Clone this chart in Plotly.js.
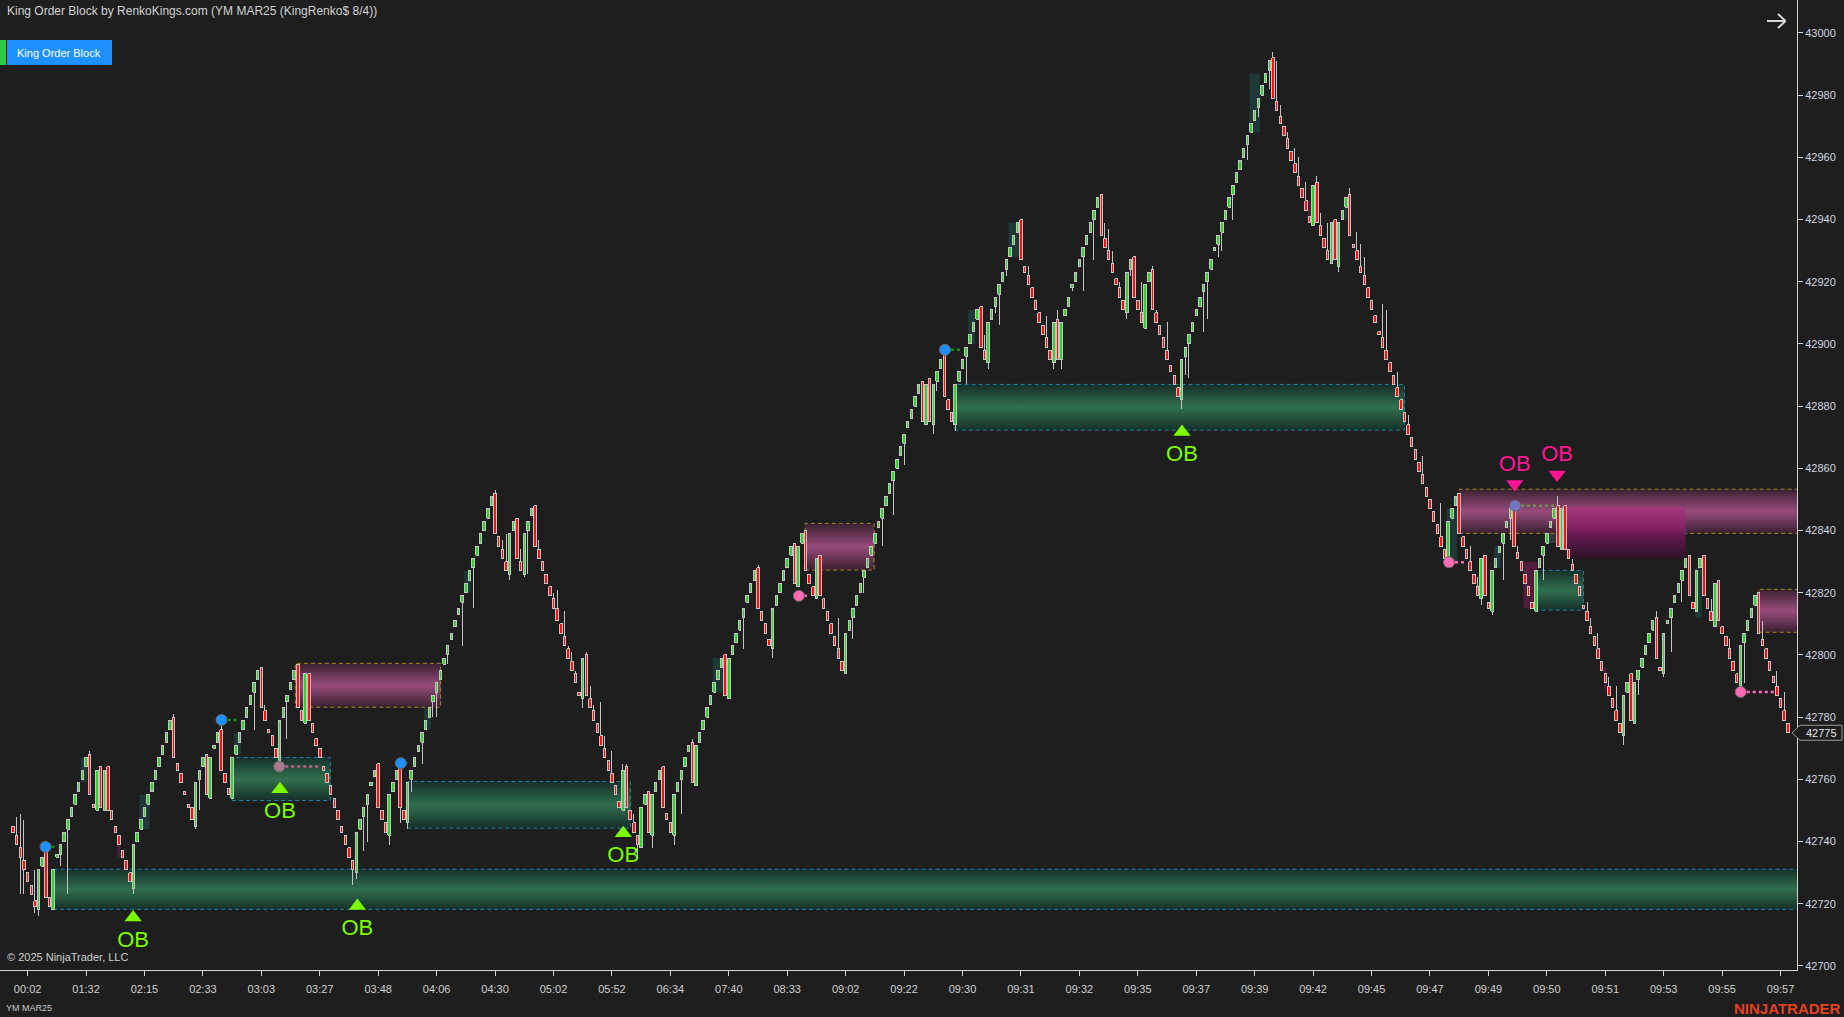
<!DOCTYPE html>
<html><head><meta charset="utf-8">
<script src="https://cdn.plot.ly/plotly-3.0.1.min.js"></script>
<style>html,body{margin:0;padding:0;background:#1e1e1e;overflow:hidden}#chart{width:1844px;height:1017px}</style>
</head><body><div id="chart"></div>
<script>
// ---- renko bar data (bar index = position) ----
const opens = [
42745,42742,42738,42734,42730,42726,42721,42718,42732,42738,
42722,42718,42735,42736,42740,42744,42748,42752,42756,42760,
42764,42768,42752,42750,42764,42750,42764,42750,42745,42742,
42737,42734,42730,42725,42740,42744,42748,42752,42756,42760,
42764,42768,42772,42776,42780,42765,42762,42756,42752,42751,
42745,42760,42764,42768,42754,42770,42772,42776,42762,42757,
42754,42768,42772,42776,42780,42784,42788,42792,42796,42782,
42776,42774,42770,42766,42780,42785,42789,42792,42797,42782,
42778,42794,42778,42773,42770,42764,42762,42758,42754,42750,
42745,42742,42738,42734,42730,42744,42748,42752,42758,42761,
42765,42750,42746,42742,42756,42760,42765,42750,42746,42760,
42764,42769,42772,42776,42780,42785,42788,42792,42797,42800,
42805,42809,42813,42817,42820,42824,42828,42832,42836,42840,
42844,42848,42852,42838,42834,42830,42826,42840,42844,42830,
42826,42840,42845,42848,42834,42830,42826,42822,42818,42815,
42810,42806,42802,42798,42794,42788,42786,42800,42786,42782,
42778,42774,42770,42766,42762,42758,42753,42750,42764,42750,
42746,42742,42738,42752,42756,42742,42756,42760,42764,42749,
42746,42742,42756,42760,42764,42769,42772,42758,42772,42776,
42780,42784,42788,42792,42796,42800,42786,42800,42804,42808,
42812,42817,42820,42824,42828,42814,42810,42805,42802,42816,
42820,42824,42828,42832,42836,42822,42836,42840,42826,42822,
42818,42832,42818,42814,42810,42806,42802,42798,42794,42808,
42812,42816,42820,42825,42828,42832,42836,42841,42844,42848,
42852,42856,42860,42864,42868,42873,42876,42880,42884,42888,
42874,42889,42874,42888,42892,42897,42882,42878,42874,42888,
42892,42896,42900,42904,42908,42912,42898,42894,42908,42912,
42916,42920,42924,42928,42932,42936,42940,42925,42922,42918,
42914,42910,42906,42902,42898,42894,42908,42895,42909,42912,
42918,42920,42925,42928,42932,42936,42940,42944,42948,42934,
42930,42926,42921,42918,42914,42910,42924,42928,42914,42910,
42905,42920,42924,42910,42906,42902,42898,42893,42890,42886,
42882,42896,42900,42904,42909,42912,42917,42920,42924,42930,
42932,42936,42940,42944,42948,42952,42956,42960,42964,42968,
42972,42976,42980,42984,42988,42992,42978,42973,42970,42966,
42962,42958,42954,42950,42946,42941,42938,42952,42938,42934,
42930,42926,42940,42925,42940,42944,42948,42932,42930,42925,
42922,42918,42914,42909,42904,42902,42898,42894,42890,42886,
42882,42878,42874,42870,42866,42862,42858,42854,42850,42846,
42842,42838,42834,42830,42844,42848,42852,42838,42834,42830,
42826,42822,42818,42832,42817,42814,42828,42833,42836,42841,
42844,42848,42833,42830,42826,42822,42817,42814,42828,42832,
42836,42841,42844,42848,42834,42848,42834,42829,42826,42822,
42816,42814,42809,42806,42802,42798,42794,42790,42786,42782,
42778,42774,42788,42794,42778,42792,42796,42800,42804,42808,
42812,42796,42794,42810,42812,42817,42820,42824,42828,42832,
42817,42814,42828,42832,42818,42814,42809,42824,42809,42806,
42802,42798,42794,42790,42804,42808,42812,42816,42820,42805,
42802,42798,42793,42790,42786,42782,42778];
const closes = [
42743,42739,42735,42731,42727,42723,42719,42731,42735,42722,
42719,42731,42736,42739,42743,42747,42751,42755,42759,42763,
42767,42755,42751,42763,42751,42763,42750,42747,42743,42739,
42735,42731,42727,42739,42743,42747,42751,42755,42759,42763,
42767,42771,42775,42779,42767,42763,42759,42755,42751,42747,
42759,42763,42767,42755,42767,42771,42775,42763,42759,42755,
42767,42771,42775,42779,42783,42787,42791,42795,42783,42779,
42775,42771,42767,42779,42783,42787,42791,42795,42783,42779,
42794,42779,42775,42771,42767,42763,42759,42755,42751,42747,
42743,42739,42735,42731,42743,42747,42751,42755,42759,42763,
42751,42747,42743,42755,42759,42763,42751,42747,42759,42763,
42767,42771,42775,42779,42783,42787,42791,42795,42799,42803,
42807,42811,42815,42819,42823,42827,42831,42835,42839,42843,
42847,42851,42839,42835,42831,42827,42839,42843,42831,42827,
42839,42843,42847,42835,42831,42827,42823,42819,42815,42811,
42807,42803,42799,42795,42791,42787,42799,42787,42783,42779,
42775,42771,42767,42763,42759,42755,42751,42763,42751,42747,
42743,42739,42751,42755,42743,42755,42759,42763,42751,42747,
42743,42755,42759,42763,42767,42771,42759,42771,42775,42779,
42783,42787,42791,42795,42799,42787,42799,42803,42807,42811,
42815,42819,42823,42827,42815,42811,42807,42803,42815,42819,
42823,42827,42831,42835,42823,42835,42839,42827,42823,42819,
42831,42819,42815,42811,42807,42803,42799,42795,42807,42811,
42815,42819,42823,42827,42831,42835,42839,42843,42847,42851,
42855,42859,42863,42867,42871,42875,42879,42883,42887,42875,
42887,42875,42887,42891,42895,42883,42879,42875,42887,42891,
42895,42899,42903,42907,42911,42899,42895,42907,42911,42915,
42919,42923,42927,42931,42935,42939,42927,42923,42919,42915,
42911,42907,42903,42899,42895,42907,42895,42907,42911,42915,
42919,42923,42927,42931,42935,42939,42943,42947,42935,42931,
42927,42923,42919,42915,42911,42923,42927,42915,42911,42907,
42919,42923,42911,42907,42903,42899,42895,42891,42887,42883,
42895,42899,42903,42907,42911,42915,42919,42923,42927,42931,
42935,42939,42943,42947,42951,42955,42959,42963,42967,42971,
42975,42979,42983,42987,42991,42979,42975,42971,42967,42963,
42959,42955,42951,42947,42943,42939,42951,42939,42935,42931,
42927,42939,42927,42939,42943,42947,42935,42931,42927,42923,
42919,42915,42911,42907,42903,42899,42895,42891,42887,42883,
42879,42875,42871,42867,42863,42859,42855,42851,42847,42843,
42839,42835,42831,42843,42847,42851,42839,42835,42831,42827,
42823,42819,42831,42819,42815,42827,42831,42835,42839,42843,
42847,42835,42831,42827,42823,42819,42815,42827,42831,42835,
42839,42843,42847,42835,42847,42834,42831,42827,42823,42819,
42815,42811,42807,42803,42799,42795,42791,42787,42783,42779,
42775,42787,42791,42779,42791,42795,42799,42803,42807,42811,
42799,42795,42807,42811,42815,42819,42823,42827,42831,42819,
42815,42827,42831,42819,42815,42811,42823,42811,42807,42803,
42799,42795,42791,42803,42807,42811,42815,42819,42807,42803,
42799,42795,42791,42787,42783,42779,42775];

// wick tips (bar index, price reached beyond body)
const wickBars = [1,2,2,3,3,6,6,7,13,15,21,33,44,50,51,57,66,69,73,75,93,94,96,97,103,106,108,109,112,115,116,119,123,126,132,134,135,136,139,140,141,144,148,149,151,152,153,154,156,157,158,159,161,162,164,167,168,170,171,175,181,183,186,200,204,208,226,230,233,238,241,244,252,253,258,261,266,267,269,270,272,278,283,285,286,287,290,293,296,299,300,301,303,305,306,309,312,313,316,320,321,322,326,327,330,331,334,338,341,344,345,346,347,349,351,352,354,357,358,360,363,366,368,369,370,375,376,379,382,386,391,399,401,402,405,408,410,412,419,423,427,431,432,434,437,439,441,445,450,452,454,457,465,468,470,473,474,479,483,485];
const wickEnds = [42748,42749,42723,42747,42723,42731,42717,42716,42732,42723,42769,42723,42781,42744,42750,42779,42776,42784,42764,42773,42726,42728,42737,42740,42739,42746,42744,42756,42765,42780,42780,42797,42803,42815,42853,42837,42839,42824,42834,42825,42826,42837,42820,42821,42814,42803,42801,42795,42783,42801,42790,42784,42785,42774,42769,42765,42765,42749,42735,42738,42739,42749,42773,42802,42829,42799,42812,42805,42820,42835,42845,42861,42871,42885,42872,42887,42903,42892,42910,42906,42922,42925,42909,42892,42911,42892,42917,42917,42927,42939,42937,42930,42920,42908,42922,42920,42925,42911,42907,42879,42890,42889,42904,42908,42928,42930,42940,42959,42973,42982,42994,42991,42977,42968,42963,42960,42952,42954,42942,42939,42923,42950,42936,42932,42928,42913,42911,42891,42877,42864,42849,42835,42825,42816,42813,42824,42837,42835,42824,42851,42831,42817,42812,42807,42793,42790,42771,42787,42814,42793,42801,42817,42818,42809,42805,42788,42791,42811,42795,42788];

// axis ticks
const tickBars = [4,20,36,52,68,84,100,116,132,148,164,180,196,212,228,244,260,276,292,308,324,340,356,372,388,404,420,436,452,468,484];
const tickLabels = ['00:02','01:32','02:15','02:33','03:03','03:27','03:48','04:06','04:30','05:02','05:52','06:34','07:40','08:33','09:02','09:22','09:30','09:31','09:32','09:35','09:37','09:39','09:42','09:45','09:47','09:49','09:50','09:51','09:53','09:55','09:57'];
const priceTicks = [42700,42720,42740,42760,42780,42800,42820,42840,42860,42880,42900,42920,42940,42960,42980,43000];

// order block zones
const zoneStart  = [11.0,60.0,108.0,257.9,416.7,77.3,216.9,396.0,425.0,478.0];
const zoneEnd    = [492,86.9,169.1,381.0,430.0,117.1,235.8,492,458.0,492];
const zoneTop    = [42731.1,42767.0,42759.3,42887.0,42827.2,42797.3,42842.3,42853.3,42847.5,42821.1];
const zoneBottom = [42718.2,42753.2,42744.3,42872.3,42814.4,42783.2,42827.3,42839.1,42830.9,42807.3];
const zoneKind   = ['bull','bull','bull','bull','bull','bear','bear','bear','fade','bear'];

// highlight glows behind single bars
const glowStart  = [18.6,34.6,28.6,60.6,112.6,123.6,191.6,261.6,272.6,219.6,338.6,354.6,364.6,392.6,405.6,420.6,413.6,435.6,466.6,460.6];
const glowEnd    = [20.4,37.4,29.4,62.4,114.4,125.4,194.4,263.4,275.4,221.4,341.4,355.4,365.4,395.4,407.4,422.4,417.4,436.4,467.4,462.4];
const glowTop    = [42767,42755,42742,42775,42783,42827,42799,42911,42939,42827,42987,42946,42947,42847,42835,42843,42830,42796,42824,42828];
const glowBottom = [42759,42744,42735,42768,42776,42820,42788,42900,42928,42819,42968,42939,42940,42830,42828,42836,42815,42789,42809,42812];
const glowKind   = ['bull','bull','bear','bull','bull','bull','bull','bull','bull','bear','bull','bear','bull','bull','bull','gray','bear','bear','bear','bull'];

// swing dots
const dotBars   = [8.9,57.1,72.9,106.2,215.2,255.2,393.2,411.3,473.1];
const dotPrices = [42738.3,42779.1,42764.1,42765.2,42819.0,42898.1,42829.8,42848.0,42788.1];
const dotColors = ['#1e90ff','#1e90ff','#a57a8c','#1e90ff','#ff69b4','#1e90ff','#ff69b4','#7474c4','#ff69b4'];
const dotLineEnd = [11.3,61.7,84.1,108.0,217.4,259.8,398.0,422.2,482.5];
const dotLineColors = ['#0c9a0c','#0c9a0c','#c0608e','#0c9a0c','#ff69b4','#0c9a0c','#ff69b4','#6f8f55','#ff69b4'];

// OB signals
const obBullBars   = [32.9,73.1,94.3,167.1,320.1];
const obBullPrices = [42715.6,42756.8,42719.3,42742.7,42871.7];
const obBearBars   = [411.2,422.8];
const obBearPrices = [42855.0,42858.0];

const lastPrice = 42775;

// ---- build traces ----
const traces = [];
const fx = px => px / 1797;
const fy = py => 1 - py / 970;

zoneStart.forEach((x0, k) => {
  const x1 = zoneEnd[k], t = zoneTop[k], b = zoneBottom[k], kind = zoneKind[k];
  let cs, line;
  if (kind === 'bull') {
    cs = [[0,'#16302a'],[0.5,'#316f4f'],[1,'#16302a']];
    line = {color:'#1d83a8', width:1, dash:'4px,3px'};
  } else if (kind === 'bear') {
    cs = [[0,'#3a2030'],[0.5,'#984c7c'],[1,'#3a2030']];
    line = {color:'#a08a22', width:1, dash:'4px,3px'};
  } else {
    cs = [[0,'#2c1226'],[0.5,'#6c1a54'],[0.56,'#7e2262'],[1,'#a8387e']];
    line = {width:0, color:'rgba(0,0,0,0)'};
  }
  traces.push({type:'scatter', mode:'lines', x:[x0,x1,x1,x0,x0], y:[b,b,t,t,b],
    fill:'toself', fillcolor:cs[1][1], fillgradient:{type:'vertical', colorscale:cs, start:b, stop:t},
    line:line, hoverinfo:'skip'});
});

// wicks
const wx = [], wy = [];
wickBars.forEach((bi, k) => {
  const e = wickEnds[k];
  const top = Math.max(opens[bi], closes[bi]), bot = Math.min(opens[bi], closes[bi]);
  wx.push(bi, bi, null);
  wy.push(e > top ? top : bot, e, null);
});
traces.push({type:'scatter', mode:'lines', x:wx, y:wy, line:{color:'#c4c4c4', width:1}, hoverinfo:'skip'});

// bodies
const HW = 0.34;
const ux = [], uy = [], dx = [], dy = [];
closes.forEach((c, i) => {
  const o = opens[i];
  const xs = [i-HW, i+HW, i+HW, i-HW, i-HW, null];
  const ys = [o, o, c, c, o, null];
  if (c >= o) { ux.push(...xs); uy.push(...ys); } else { dx.push(...xs); dy.push(...ys); }
});
traces.push({type:'scatter', mode:'lines', x:ux, y:uy, fill:'toself', fillcolor:'#2fd42f', line:{color:'#c4c4c4', width:1}, hoverinfo:'skip'});
traces.push({type:'scatter', mode:'lines', x:dx, y:dy, fill:'toself', fillcolor:'#ff0e0e', line:{color:'#c4c4c4', width:1}, hoverinfo:'skip'});

// dotted lines + dots
dotBars.forEach((bx, k) => {
  traces.push({type:'scatter', mode:'lines', x:[bx, dotLineEnd[k]], y:[dotPrices[k], dotPrices[k]],
    line:{color:dotLineColors[k], width:2.5, dash:'dot'}, hoverinfo:'skip'});
});
traces.push({type:'scatter', mode:'markers', x:dotBars, y:dotPrices,
  marker:{size:11, color:dotColors, line:{color:'#6a6a6a', width:1}}, hoverinfo:'skip'});

// OB markers and labels
traces.push({type:'scatter', mode:'markers', x:obBullBars, y:obBullPrices,
  marker:{symbol:'triangle-up', size:15, color:'#7cfc00'}, hoverinfo:'skip'});
traces.push({type:'scatter', mode:'text', x:obBullBars, y:obBullPrices.map(p => p - 7.6),
  text:obBullBars.map(() => 'OB'), textposition:'middle center',
  textfont:{family:'Liberation Sans, Arial, sans-serif', size:22, color:'#7cfc00'}, hoverinfo:'skip'});
traces.push({type:'scatter', mode:'markers', x:obBearBars, y:obBearPrices,
  marker:{symbol:'triangle-down', size:15, color:'#ff1493'}, hoverinfo:'skip'});
traces.push({type:'scatter', mode:'text', x:obBearBars, y:obBearPrices.map(p => p + 6.0),
  text:obBearBars.map(() => 'OB'), textposition:'middle center',
  textfont:{family:'Liberation Sans, Arial, sans-serif', size:22, color:'#ff1493'}, hoverinfo:'skip'});

// ---- layout ----
const glowColors = {bull:'rgba(38,120,118,0.3)', bear:'rgba(150,30,105,0.42)', gray:'rgba(90,110,120,0.35)'};
const shapes = glowStart.map((x0, k) => ({type:'rect', xref:'x', yref:'y', layer:'below',
  x0:x0, x1:glowEnd[k], y0:glowBottom[k], y1:glowTop[k], fillcolor:glowColors[glowKind[k]], line:{width:0}}));

const tagY = fy(33 + (43000 - lastPrice) * 3.11);
shapes.push(
  {type:'rect', xref:'paper', yref:'paper', x0:fx(0), x1:fx(6), y0:fy(65), y1:fy(40), fillcolor:'#2ecc40', line:{width:0}},
  {type:'rect', xref:'paper', yref:'paper', x0:fx(7), x1:fx(112), y0:fy(65), y1:fy(40), fillcolor:'#1e90ff', line:{width:0}},
  {type:'line', xref:'paper', yref:'paper', x0:fx(1767), x1:fx(1785), y0:fy(21), y1:fy(21), line:{color:'#d8d8d8', width:2}},
  {type:'line', xref:'paper', yref:'paper', x0:fx(1778), x1:fx(1785.5), y0:fy(14), y1:fy(21), line:{color:'#d8d8d8', width:2}},
  {type:'line', xref:'paper', yref:'paper', x0:fx(1778), x1:fx(1785.5), y0:fy(28), y1:fy(21), line:{color:'#d8d8d8', width:2}},
  {type:'path', xref:'paper', yref:'paper',
   path:`M ${fx(1792)} ${tagY} L ${fx(1800)} ${tagY + 7.5/970} L ${fx(1842)} ${tagY + 7.5/970} L ${fx(1842)} ${tagY - 7.5/970} L ${fx(1800)} ${tagY - 7.5/970} Z`,
   fillcolor:'#1e1e1e', line:{color:'#9a9a9a', width:1}}
);
const annotations = [
  {xref:'paper', yref:'paper', x:fx(5), y:fy(11), xanchor:'left', yanchor:'middle', showarrow:false,
   text:'King Order Block by RenkoKings.com (YM MAR25 (KingRenko$ 8/4))', font:{size:12, color:'#d2d2d2'}},
  {xref:'paper', yref:'paper', x:fx(59.5), y:fy(52.5), xanchor:'center', yanchor:'middle', showarrow:false,
   text:'King Order Block', font:{size:11, color:'#ffffff'}},
  {xref:'paper', yref:'paper', x:fx(5), y:fy(957), xanchor:'left', yanchor:'middle', showarrow:false,
   text:'© 2025 NinjaTrader, LLC', font:{size:11, color:'#d0d0d0'}},
  {xref:'paper', yref:'paper', x:fx(4), y:fy(1008), xanchor:'left', yanchor:'middle', showarrow:false,
   text:'YM MAR25', font:{size:9, color:'#c8c8c8'}},
  {xref:'paper', yref:'paper', x:fx(1843), y:fy(1008), xanchor:'right', yanchor:'middle', showarrow:false,
   text:'<b>NINJATRADER</b>', font:{size:15, color:'#e8401c'}},
  {xref:'paper', yref:'paper', x:fx(1821), y:tagY, xanchor:'center', yanchor:'middle', showarrow:false,
   text:String(lastPrice), font:{size:11, color:'#e6e6e6'}}
];

const layout = {
  width:1844, height:1017, autosize:false,
  margin:{l:0, r:47, t:0, b:47, pad:0},
  paper_bgcolor:'#1e1e1e', plot_bgcolor:'#1e1e1e',
  showlegend:false, hovermode:false,
  font:{family:'Liberation Sans, Arial, sans-serif', color:'#d0d0d0', size:11},
  xaxis:{range:[-3.56, 488.5], showgrid:false, zeroline:false, showline:true, linecolor:'#d4d4d4', linewidth:1,
    ticks:'outside', ticklen:5, tickcolor:'#d4d4d4', tickvals:tickBars, ticktext:tickLabels, ticklabelstandoff:4,
    tickfont:{size:11, color:'#d0d0d0'}, fixedrange:true},
  yaxis:{range:[42698.7, 43010.6], side:'right', showgrid:false, zeroline:false, showline:true, linecolor:'#d4d4d4', linewidth:1,
    ticks:'outside', ticklen:5, tickcolor:'#d4d4d4', tickvals:priceTicks, ticktext:priceTicks.map(String),
    tickfont:{size:11, color:'#d0d6e0'}, fixedrange:true},
  shapes:shapes, annotations:annotations
};

Plotly.newPlot('chart', traces, layout, {displayModeBar:false, staticPlot:true}).then(() => {
  const groups = document.querySelectorAll('.scatterlayer .trace');
  [10, 11, 12].forEach(k => {
    if (groups[k]) groups[k].querySelectorAll('path').forEach(p => p.style.shapeRendering = 'crispEdges');
  });
});
</script>
</body></html>
